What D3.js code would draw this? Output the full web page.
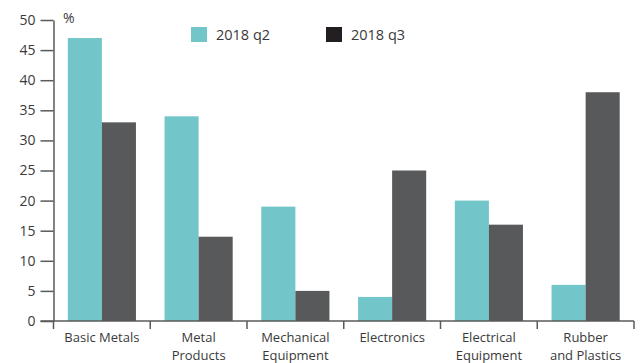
<!DOCTYPE html>
<html>
<head>
<meta charset="utf-8">
<script src="https://cdn.jsdelivr.net/npm/d3@7"></script>
<style>
  body { margin: 0; background: #fff; }
  svg { display: block; font-family: 'Open Sans', sans-serif; }
</style>
</head>
<body>
<svg width="643" height="363"></svg>
<script>
const categories = [['Basic Metals'], ['Metal', 'Products'], ['Mechanical', 'Equipment'],
  ['Electronics'], ['Electrical', 'Equipment'], ['Rubber', 'and Plastics']];
const seriesNames = ['2018 q2', '2018 q3'];
const q2Values = [47, 34, 19, 4, 20, 6];
const q3Values = [33, 14, 5, 25, 16, 38];
const yTicks = [0, 5, 10, 15, 20, 25, 30, 35, 40, 45, 50];

const teal = '#72c5c8';
const dark = '#58595b';
const axisColor = '#5a5a5a';
const textColor = '#3a3a3a';

const margin = { left: 53.5, right: 9, top: 20, bottom: 42 };
const width = 643, height = 363;

const svg = d3.select('svg');

const x0 = d3.scaleBand(d3.range(categories.length), [margin.left, width - margin.right]);
const x1 = d3.scaleBand([0, 1], [0, x0.bandwidth()]).paddingOuter(0.42);
const y = d3.scaleLinear([0, 50], [height - margin.bottom, margin.top]);

const data = categories.map((c, i) => ({ i, values: [q2Values[i], q3Values[i]] }));

// bars
svg.append('g')
  .selectAll('g')
  .data(data)
  .join('g')
    .attr('transform', (d) => `translate(${x0(d.i)},0)`)
  .selectAll('rect')
  .data((d) => d.values.map((v, k) => ({ k, v })))
  .join('rect')
    .attr('x', (d) => x1(d.k))
    .attr('width', x1.bandwidth())
    .attr('y', (d) => y(d.v))
    .attr('height', (d) => y(0) - y(d.v))
    .attr('fill', (d) => d.k === 0 ? teal : dark);

// y axis
const yAxis = svg.append('g')
  .attr('transform', `translate(${margin.left},0)`)
  .call(d3.axisLeft(y).tickValues(yTicks).tickSize(13).tickPadding(5).tickSizeOuter(0));
yAxis.selectAll('line, path').attr('stroke', axisColor).attr('stroke-width', 1.5);
yAxis.selectAll('text')
  .attr('fill', textColor)
  .style('font-family', "'Open Sans', sans-serif")
  .style('font-size', '14px');

// x axis
const xTickPos = d3.range(categories.length + 1).map((i) => margin.left + i * x0.step());
svg.append('line')
  .attr('x1', margin.left - 13)
  .attr('x2', width - margin.right)
  .attr('y1', y(0))
  .attr('y2', y(0))
  .attr('stroke', axisColor)
  .attr('stroke-width', 1.5);
svg.append('g')
  .selectAll('line')
  .data(xTickPos)
  .join('line')
    .attr('x1', (d) => d)
    .attr('x2', (d) => d)
    .attr('y1', y(0))
    .attr('y2', y(0) + 8)
    .attr('stroke', axisColor)
    .attr('stroke-width', 1.5);

svg.append('g')
  .selectAll('text')
  .data(categories)
  .join('text')
    .attr('x', (d, i) => x0(i) + x0.bandwidth() / 2)
    .attr('y', y(0) + 21)
    .attr('text-anchor', 'middle')
    .attr('fill', textColor)
    .style('font-size', '13px')
  .selectAll('tspan')
  .data((d) => d)
  .join('tspan')
    .attr('x', function () { return this.parentNode.getAttribute('x'); })
    .attr('dy', (d, k) => k === 0 ? 0 : 18)
    .text((d) => d);

// unit label
svg.append('text')
  .text('%')
  .attr('x', 63)
  .attr('y', 23)
  .attr('fill', textColor)
  .style('font-size', '14px');

// legend
const legendX = [191, 326];
const legendColors = [teal, '#231f20'];
const legend = svg.append('g')
  .selectAll('g')
  .data(seriesNames)
  .join('g')
    .attr('transform', (d, i) => `translate(${legendX[i]},27)`);
legend.append('rect')
  .attr('width', 16)
  .attr('height', 15)
  .attr('fill', (d, i) => legendColors[i]);
legend.append('text')
  .text((d) => d)
  .attr('x', 25)
  .attr('y', 13)
  .attr('fill', textColor)
  .style('font-size', '14.5px');
</script>
</body>
</html>
